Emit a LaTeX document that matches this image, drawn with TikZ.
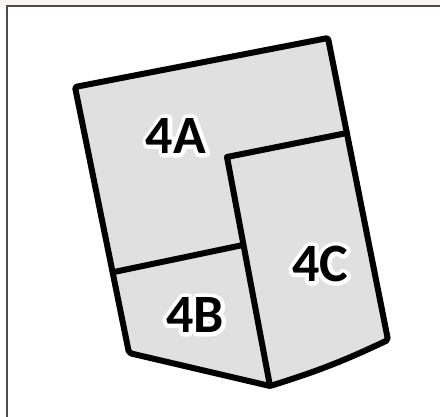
\documentclass[tikz,border=0pt]{standalone}
\usepackage{fontspec}
\setmainfont{Carlito}

\newcommand\halo[1]{\special{pdf:literal direct 1 Tr 8 w 1 1 1 RG 1 j}#1\special{pdf:literal direct 0 Tr}}
\tikzset{
  plot/.style={line width=6pt, line join=round, line cap=round},
  lbl/.style={font=\fontsize{54}{54}\selectfont\bfseries, inner sep=0pt}
}

\begin{document}
\begin{tikzpicture}[x=1pt, y=-1pt]
  \useasboundingbox (0,0) rectangle (440,417);
  \fill[white] (0,0) rectangle (440,417);
  \fill[yellow!6!gray!8] (0,0) rectangle (440,5);
  % frame
  \draw[line width=2pt, gray!60!black] (7,417) -- (7,6) -- (440,6);
  % corners of the plot
  \coordinate (tl) at (75,87);
  \coordinate (tr) at (328,38);
  \coordinate (rm) at (347,133);
  \coordinate (br) at (388,340);
  \coordinate (bm) at (270,386);
  \coordinate (bl) at (129,353);
  \coordinate (lm) at (114,272);
  \coordinate (cc) at (227,157);
  \coordinate (cm) at (243,245);
  \filldraw[plot, fill=gray!24, rounded corners=2pt]
    (tl) -- (tr) -- (br) to[bend left=4] (bm) -- (bl) -- cycle;
  \draw[plot] (rm) -- (cc) -- (bm);
  \draw[plot] (lm) -- (cm);
  % labels with white halo
  \foreach \x/\y/\txt in {176/136/4A, 195/315/4B, 320/264/4C}
  {
    \node[lbl, white] (h\txt) at (\x,\y) {\halo{\txt}};
    \node[lbl] (l\txt) at (\x,\y) {\txt};
  }
\end{tikzpicture}
\end{document}
